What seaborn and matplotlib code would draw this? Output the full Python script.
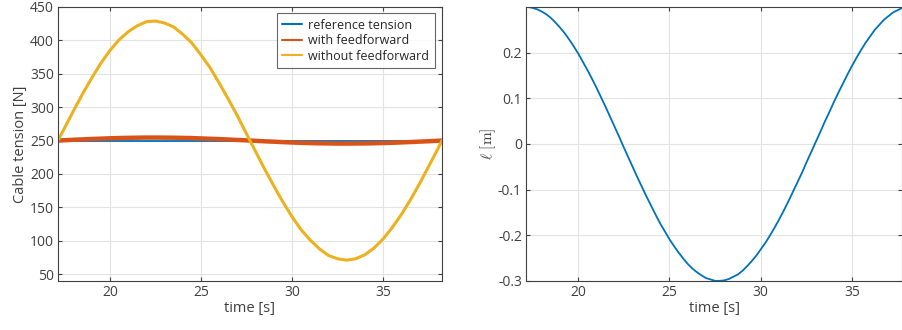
import numpy as np
import pandas as pd
import matplotlib
matplotlib.use("Agg")
import matplotlib.pyplot as plt
import seaborn as sns

# time samples [s]
time_s = [17.14, 17.5, 18.0, 18.5, 19.0, 19.5, 20.0, 20.5, 21.0, 21.5, 22.0, 22.5,
          23.0, 23.5, 24.0, 24.5, 25.0, 25.5, 26.0, 26.5, 27.0, 27.5, 28.0, 28.5,
          29.0, 29.5, 30.0, 30.5, 31.0, 31.5, 32.0, 32.5, 33.0, 33.5, 34.0, 34.5,
          35.0, 35.5, 36.0, 36.5, 37.0, 37.5, 38.0, 38.24]

# cable tension [N]
reference_tension = [250] * len(time_s)
with_feedforward = [250.0, 250.5, 251.2, 251.8, 252.4, 252.9, 253.4, 253.8, 254.1, 254.3,
                    254.5, 254.5, 254.4, 254.3, 254.0, 253.7, 253.2, 252.7, 252.2, 251.6,
                    250.9, 250.3, 249.6, 248.9, 248.3, 247.7, 247.1, 246.6, 246.2, 245.9,
                    245.7, 245.5, 245.5, 245.6, 245.7, 246.0, 246.3, 246.7, 247.2, 247.8,
                    248.4, 249.0, 249.7, 250.0]
without_feedforward = [250, 269, 295, 320.5, 344, 366, 385, 401, 413, 422, 428, 429,
                       426, 420, 409, 396, 378, 359, 336, 312, 287, 260, 233.5, 207,
                       182, 158, 136, 116.5, 101, 88, 78, 73, 71, 73, 79, 89,
                       102.5, 119.5, 139, 161, 185, 211, 237, 250]

# cable length variation [m], sampled more finely
time_len = [17.14, 17.25, 17.5, 17.75, 18.0, 18.25, 18.5, 18.75, 19.0, 19.25, 19.5, 19.75,
            20.0, 20.25, 20.5, 20.75, 21.0, 21.25, 21.5, 21.75, 22.0, 22.25, 22.5, 22.75,
            23.0, 23.25, 23.5, 23.75, 24.0, 24.25, 24.5, 24.75, 25.0, 25.25, 25.5, 25.75,
            26.0, 26.25, 26.5, 26.75, 27.0, 27.25, 27.5, 27.75, 28.0, 28.25, 28.5, 28.75,
            29.0, 29.25, 29.5, 29.75, 30.0, 30.25, 30.5, 30.75, 31.0, 31.25, 31.5, 31.75,
            32.0, 32.25, 32.5, 32.75, 33.0, 33.25, 33.5, 33.75, 34.0, 34.25, 34.5, 34.75,
            35.0, 35.25, 35.5, 35.75, 36.0, 36.25, 36.5, 36.75, 37.0, 37.25, 37.5, 37.75,
            38.0, 38.24]
length_m = [0.300, 0.300, 0.298, 0.295, 0.290, 0.284, 0.276, 0.266, 0.255, 0.243, 0.229, 0.214,
            0.198, 0.180, 0.162, 0.143, 0.123, 0.102, 0.081, 0.059, 0.037, 0.015, -0.008, -0.030,
            -0.052, -0.074, -0.095, -0.116, -0.136, -0.156, -0.175, -0.192, -0.209, -0.224, -0.238, -0.251,
            -0.263, -0.273, -0.281, -0.288, -0.294, -0.297, -0.300, -0.300, -0.299, -0.296, -0.291, -0.286,
            -0.278, -0.268, -0.257, -0.245, -0.231, -0.217, -0.201, -0.184, -0.166, -0.147, -0.127, -0.106,
            -0.085, -0.064, -0.041, -0.019, 0.003, 0.025, 0.048, 0.069, 0.091, 0.112, 0.132, 0.152,
            0.171, 0.189, 0.206, 0.222, 0.236, 0.250, 0.261, 0.272, 0.280, 0.288, 0.293, 0.298,
            0.299, 0.300]

sns.set_theme(style="whitegrid")
plt.rcParams.update({
    "font.family": ["Open Sans", "DejaVu Sans"],
    "mathtext.fontset": "cm",
    "axes.edgecolor": "#404040",
    "axes.linewidth": 0.8,
    "grid.color": "#e3e3e3",
    "grid.linewidth": 0.8,
    "xtick.color": "#404040",
    "ytick.color": "#404040",
    "axes.labelcolor": "#404040",
    "text.color": "#262626",
})

df = pd.DataFrame({
    "time": time_s * 3,
    "tension": reference_tension + with_feedforward + without_feedforward,
    "case": (["reference tension"] * len(time_s) + ["with feedforward"] * len(time_s)
             + ["without feedforward"] * len(time_s)),
})
palette = {"reference tension": "#0072BD", "with feedforward": "#D95319",
           "without feedforward": "#EDB120"}

fig = plt.figure(figsize=(9.02, 3.30), dpi=100)
ax1 = fig.add_axes([0.0643, 0.149, 0.4257, 0.8298])
ax2 = fig.add_axes([0.5832, 0.149, 0.4168, 0.8298])

sns.lineplot(data=df, x="time", y="tension", hue="case", palette=palette,
             ax=ax1, estimator=None, sort=False)
widths = {"reference tension": 1.3, "with feedforward": 3.2, "without feedforward": 2.2}
for line, name in zip(ax1.get_lines(), palette):
    line.set_linewidth(widths[name])
ax1.set_xlim(17.14, 38.24)
ax1.set_ylim(40, 450)
ax1.set_yticks(np.arange(50, 451, 50))
ax1.set_xticks([20, 25, 30, 35])
ax1.set_xlabel("time [s]", fontsize=10.5, labelpad=1)
ax1.set_ylabel("Cable tension [N]", fontsize=10.5, labelpad=1)
leg = ax1.legend(loc="upper right", fontsize=9, frameon=True, fancybox=False,
                 bbox_to_anchor=(0.982, 0.978), borderaxespad=0, handlelength=1.6,
                 borderpad=0.45, labelspacing=0.2, handletextpad=0.5)
leg.get_frame().set_edgecolor("#404040")
leg.get_frame().set_linewidth(0.8)
for h in leg.get_lines():
    h.set_linewidth(1.5)

sns.lineplot(x=time_len, y=length_m, ax=ax2, color="#0072BD", linewidth=1.3)
ax2.set_xlim(17.14, 37.74)
ax2.set_ylim(-0.3, 0.3)
ax2.set_yticks([-0.3, -0.2, -0.1, 0, 0.1, 0.2])
ax2.set_yticklabels(["-0.3", "-0.2", "-0.1", "0", "0.1", "0.2"])
ax2.set_xticks([20, 25, 30, 35])
ax2.set_xlabel("time [s]", fontsize=10.5, labelpad=1)
ax2.set_ylabel(r"$\ell\ [\mathrm{m}]$", fontsize=11, labelpad=0)

for ax in (ax1, ax2):
    ax.tick_params(direction="in", length=3, width=0.8, labelsize=10, pad=3,
                   top=True, right=True, bottom=True, left=True)
    for s in ax.spines.values():
        s.set_visible(True)

fig.savefig("out.png", dpi=100)
